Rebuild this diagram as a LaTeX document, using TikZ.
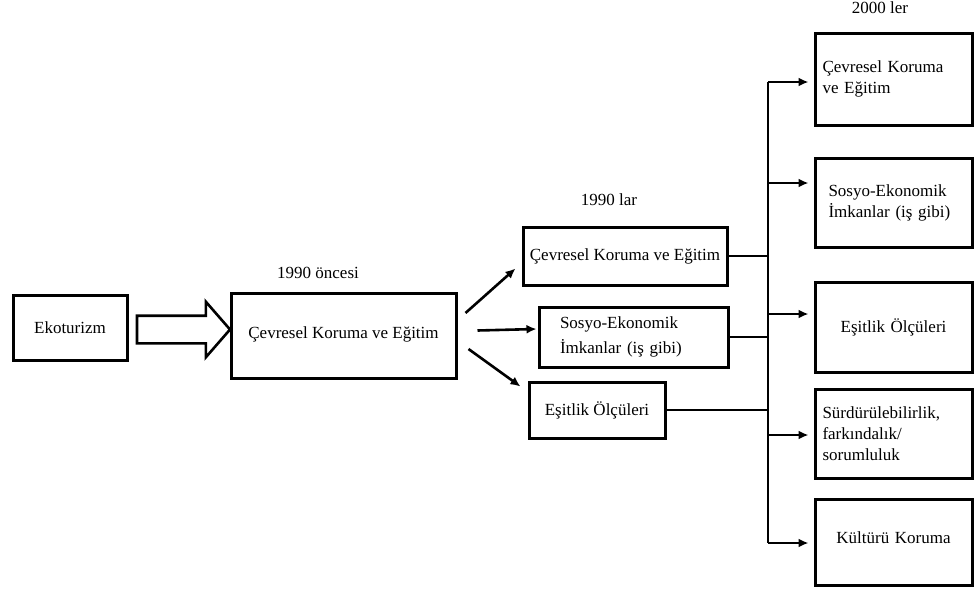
\documentclass[tikz,border=0pt]{standalone}
\usepackage{fontspec}
\setmainfont{Liberation Serif}
\usetikzlibrary{positioning,shapes.arrows,arrows.meta,calc}

\begin{document}
\begin{tikzpicture}[x=1pt,y=-1pt,font=\fontsize{17}{21}\selectfont,
  box/.style={draw,line width=3pt,inner sep=6pt,align=center},
  rbox/.style={box,minimum width=157pt,text width=142pt},
  bigarr/.style={draw,line width=2.6pt,single arrow,single arrow head extend=14pt,
                 single arrow tip angle=98,minimum height=93pt,inner xsep=0pt,inner ysep=12.5pt},
  arr/.style={-{Latex[length=10pt,width=9pt]},line width=2.6pt},
  ln/.style={line width=2.6pt}]
\useasboundingbox (0,0) rectangle (977,592);
% sol
\node[box,minimum width=114pt,minimum height=65pt] (eko) at (70,327.5) {Ekoturizm};
\node[bigarr] (ok) at (177.5,329.5) {};
\node[box,minimum width=225pt,minimum height=85pt] (m0) at (343.5,335.5) {\raisebox{5pt}{Çevresel Koruma ve Eğitim}};
\node (t0) at (318,273) {1990 öncesi};
% 1990 lar
\node[box,minimum width=204pt,minimum height=58pt,inner sep=1pt] (n1) at (625,256) {Çevresel Koruma ve Eğitim};
\node[box,minimum width=189pt,minimum height=60pt,text width=147pt,align=left] (n2) at (633.5,337) {Sosyo-Ekonomik\\[4pt]İmkanlar (iş gibi)};
\node[box,minimum width=136pt,minimum height=56pt] (n3) at (597,410) {Eşitlik Ölçüleri};
\node (t1) at (609,200) {1990 lar};
% 2000 ler
\node[rbox,minimum height=92pt,align=left] (r1) at (893.5,79) {Çevresel Koruma\\ve Eğitim};
\node[rbox,minimum height=89pt,text width=130pt,align=left] (r2) at (893.5,202.5) {Sosyo-Ekonomik\\İmkanlar (iş gibi)};
\node[rbox,minimum height=90pt] (r3) at (893.5,327) {Eşitlik Ölçüleri};
\node[rbox,minimum height=89pt,align=left] (r4) at (893.5,433.5) {Sürdürülebilirlik,\\farkındalık/\\sorumluluk};
\node[rbox,minimum height=86pt] (r5) at (893.5,542) {\raisebox{9pt}{Kültürü Koruma}};
\node (t2) at (880,8) {2000 ler};
% oklar
\draw[arr] ([shift={(8,-22.5)}]m0.east) -- ([shift={(-6,-18)}]n1.south west);
\draw[arr] ([shift={(20,-5)}]m0.east) -- ([shift={(-1,-8)}]n2.west);
\draw[arr] ([shift={(11,13.5)}]m0.east) -- ([shift={(-7,6)}]n3.north west);
\coordinate (bt) at (768,82);
\coordinate (bb) at (768,543);
\draw[ln] (bt) -- (bb);
\foreach \n in {n1,n2,n3} \draw[ln] (\n.east) -- (\n.east-|bt);
\foreach \i/\y in {1/82,2/183,3/314,4/435,5/543}{
  \coordinate (b\i) at (768,\y);
  \draw[arr,shorten >=5pt] (b\i) -- (b\i-|r\i.west);}
\end{tikzpicture}
\end{document}
